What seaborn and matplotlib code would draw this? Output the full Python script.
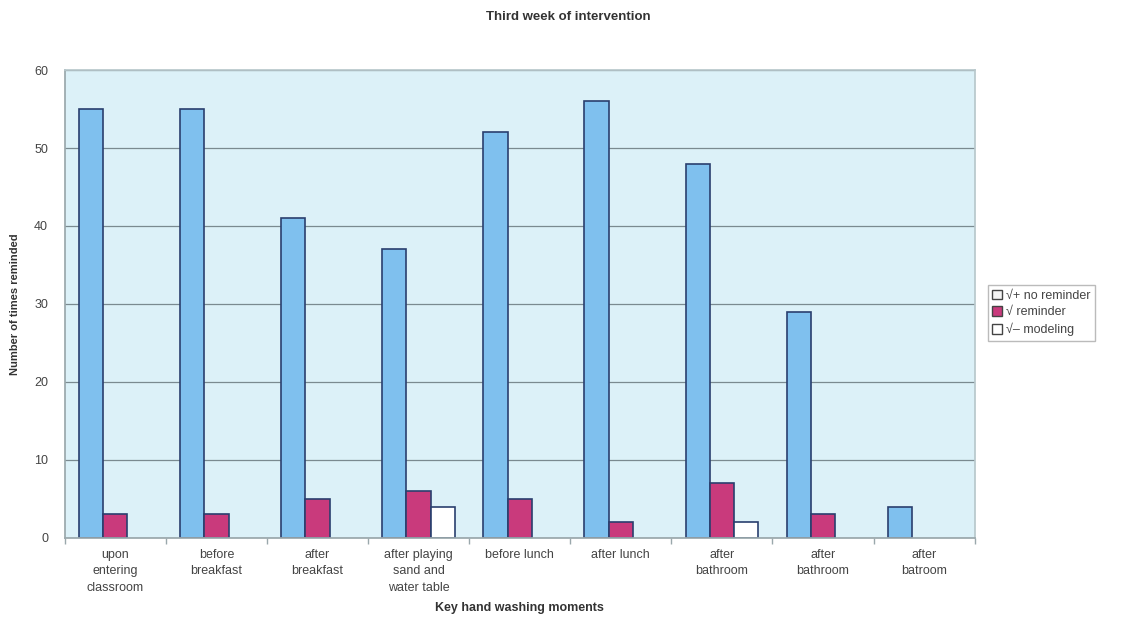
import matplotlib
matplotlib.use("Agg")
import matplotlib.pyplot as plt
import seaborn as sns
import pandas as pd
from matplotlib.patches import Patch

categories = ["upon\nentering\nclassroom", "before\nbreakfast", "after\nbreakfast",
              "after playing\nsand and\nwater table", "before lunch", "after lunch",
              "after\nbathroom", "after\nbathroom", "after\nbatroom"]
series_names = ["√+ no reminder", "√ reminder", "√– modeling"]
no_reminder = [55, 55, 41, 37, 52, 56, 48, 29, 4]
reminder = [3, 3, 5, 6, 5, 2, 7, 3, 0]
modeling = [0, 0, 0, 4, 0, 0, 2, 0, 0]
y_ticks = [0, 10, 20, 30, 40, 50, 60]

rows = []
for i in range(len(categories)):
    for name, vals in zip(series_names, [no_reminder, reminder, modeling]):
        rows.append({"idx": i, "series": name, "value": vals[i]})
df = pd.DataFrame(rows)

sns.set_theme(style="white")
plt.rcParams['font.family'] = ['Liberation Sans', 'DejaVu Sans']

colors = ["#7fc0ee", "#c93a7c", "#ffffff"]
fig = plt.figure(figsize=(11.36, 6.26), dpi=100)
ax = fig.add_axes([0.057, 0.141, 0.801, 0.747])
ax.set_facecolor("#dcf1f8")

sns.barplot(data=df, x="idx", y="value", hue="series", hue_order=series_names,
            palette=colors, saturation=1, width=0.72, ax=ax, edgecolor="#2a3f6e",
            linewidth=1.2, legend=False, errorbar=None)
for p in ax.patches:
    if p.get_height() == 0:
        p.set_visible(False)

ax.set_ylim(0, 60)
ax.set_yticks(y_ticks)
ax.set_xlim(-0.5, len(categories) - 0.5)
ax.yaxis.grid(True, color="#7a8a90", linewidth=0.9)
ax.set_axisbelow(True)
ax.set_xticks(range(len(categories)))
ax.set_xticklabels(categories, fontsize=9, color="#444444", linespacing=1.5)
ax.set_xticks([i + 0.5 for i in range(-1, len(categories))], minor=True)
ax.tick_params(axis="x", which="major", length=0, pad=8)
ax.tick_params(axis="x", which="minor", length=4, color="#9aa8ac", bottom=True)
ax.tick_params(axis="y", labelsize=9, colors="#444444", length=0, pad=12)
for s in ["top", "right"]:
    ax.spines[s].set_color("#b8c8cc")
for s in ["left", "bottom"]:
    ax.spines[s].set_color("#9aa8ac")

ax.set_xlabel("Key hand washing moments", fontsize=9, fontweight="bold", color="#333333", labelpad=6)
ax.set_ylabel("Number of times reminded", fontsize=8, fontweight="bold", color="#333333", labelpad=10)
fig.suptitle("Third week of intervention", fontsize=9.5, fontweight="bold", color="#333333", y=0.982)

handles = [Patch(facecolor=c, edgecolor="#444444", linewidth=1) for c in ["#f4f4f4", colors[1], colors[2]]]
leg = fig.legend(handles, series_names, loc="center left", bbox_to_anchor=(0.864, 0.5),
                 fontsize=9, frameon=True, handlelength=0.8, handleheight=0.8,
                 handletextpad=0.3, labelspacing=0.35, borderpad=0.35, fancybox=False)
leg.get_frame().set_edgecolor("#aaaaaa")
for t in leg.get_texts():
    t.set_color("#444444")

fig.savefig("out.png", dpi=100)
